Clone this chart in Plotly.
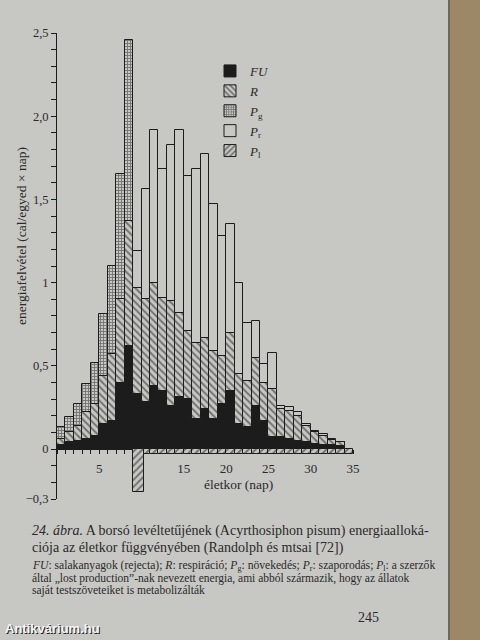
import plotly.graph_objects as go

# energy allocation of the pea aphid by age (cal / individual x day)
age_fu = list(range(1, 35))
fu = [0.025, 0.04, 0.05, 0.06, 0.08, 0.15, 0.17, 0.40, 0.62, 0.33,
      0.28, 0.38, 0.35, 0.26, 0.31, 0.30, 0.18, 0.24, 0.18, 0.27,
      0.35, 0.15, 0.13, 0.26, 0.17, 0.07, 0.07, 0.06, 0.05, 0.04,
      0.03, 0.025, 0.025, 0.02]
resp = [0.035, 0.06, 0.09, 0.16, 0.19, 0.29, 0.40, 0.50, 0.75, 0.64,
        0.62, 0.62, 0.56, 0.63, 0.51, 0.41, 0.46, 0.43, 0.41, 0.29,
        0.35, 0.30, 0.28, 0.29, 0.23, 0.29, 0.17, 0.17, 0.15, 0.10,
        0.07, 0.055, 0.03, 0.02]
age_pg = list(range(1, 10))
growth = [0.07, 0.09, 0.13, 0.17, 0.25, 0.37, 0.53, 0.75, 1.09]
age_pr = list(range(10, 35))
repro = [0.22, 0.66, 0.92, 0.77, 0.94, 1.10, 0.93, 1.04, 1.10, 0.88,
         0.72, 0.65, 0.55, 0.35, 0.22, 0.11, 0.22, 0.02, 0.025, 0.02,
         0.01, 0.01, 0.01, 0.005, 0.005]
age_pl = list(range(10, 36))
lost = [-0.26] + [-0.03] * 25

y_vals = [-0.3, 0, 0.5, 1, 1.5, 2, 2.5]
y_text = ["\u22120,3", "0", "0,5", "1", "1,5", "2,0", "2,5"]
x_vals = [5, 15, 20, 25, 30, 35]
x_text = ["5", "15", "20", "25", "30", "35"]

PAPER = "#c7c7c4"
INK = "#1c1c1c"
TXT = "#2a2a2a"
SERIF = "Liberation Serif"

W, H = 480, 640
ML, MR, MT, MB = 57, 127, 33, 141
Y0, Y1 = -0.3, 2.5


def px(x):
    return (x - ML) / (W - ML - MR)


def py(y):
    return (H - MB - y) / (H - MT - MB)


outline = dict(color=INK, width=1)

fig = go.Figure()
fig.add_trace(go.Bar(
    x=age_fu, y=fu, name="<i>FU</i>", width=1, offset=-1,
    marker=dict(color=INK, line=outline),
))
fig.add_trace(go.Bar(
    x=age_fu, y=resp, name="<i>R</i>", width=1, offset=-1,
    marker=dict(color=PAPER, line=outline,
                pattern=dict(shape="\\", fgcolor=INK, bgcolor=PAPER, size=5, solidity=0.4)),
))
fig.add_trace(go.Bar(
    x=age_pg, y=growth, name="<i>P</i><sub>g</sub>", width=1, offset=-1,
    marker=dict(color=PAPER, line=outline,
                pattern=dict(shape="+", fgcolor=INK, bgcolor=PAPER, size=3, solidity=0.5)),
))
fig.add_trace(go.Bar(
    x=age_pr, y=repro, name="<i>P</i><sub>r</sub>", width=1, offset=-1,
    marker=dict(color=PAPER, line=outline),
))
# the big negative block is a bit wider than one day
pl_width = [1.3, 0.7] + [1] * (len(age_pl) - 2)
pl_offset = [-1, -0.7] + [-1] * (len(age_pl) - 2)
fig.add_trace(go.Bar(
    x=age_pl, y=lost, name="<i>P</i><sub>l</sub>", width=pl_width, offset=pl_offset,
    marker=dict(color=PAPER, line=outline,
                pattern=dict(shape="/", fgcolor=INK, bgcolor=PAPER, size=5, solidity=0.4)),
))

ann = []


def text(x, y, s, size, anchor="left", **kw):
    ann.append(dict(x=px(x), y=py(y), xref="paper", yref="paper", text=s,
                    showarrow=False, xanchor=anchor, yanchor="middle",
                    font=dict(family=kw.pop("family", SERIF), size=size,
                              color=kw.pop("color", TXT)), **kw))


text(21, 236, "energiafelvétel (cal/egyed \u00d7 nap)", 13.5, anchor="center", textangle=-90)
text(238, 484, "életkor (nap)", 13.5, anchor="center")
text(30, 531, "<i>24. ábra.</i> A borsó levéltetűjének (Acyrthosiphon pisum) energiaalloká-", 14)
text(30, 548, "ciója az életkor függvényében (Randolph és mtsai [72])", 14)
text(30, 566, "<i>FU</i>: salakanyagok (rejecta); <i>R</i>: respiráció; <i>P</i><sub>g</sub>: növekedés; "
              "<i>P</i><sub>r</sub>: szaporodás; <i>P</i><sub>l</sub>: a szerzők", 11.6)
text(30, 578, "által \u201elost production\u201d-nak nevezett energia, ami abból származik, hogy az állatok", 11.5)
text(30, 590, "saját testszöveteiket is metabolizálták", 11.5)
text(368, 617, "245", 14, anchor="center")
text(4, 629, "<b>Antikvárium.hu</b>", 13, family="Liberation Sans", color="#222222")
text(3, 628, "<b>Antikvárium.hu</b>", 13, family="Liberation Sans", color="#f4f4f4")

shapes = [
    dict(type="rect", xref="paper", yref="paper", x0=px(0), x1=px(449), y0=py(0), y1=py(H),
         fillcolor=PAPER, line=dict(width=0), layer="below"),
    dict(type="rect", xref="paper", yref="paper", x0=px(449), x1=px(W), y0=py(0), y1=py(H),
         fillcolor="#9c8866", line=dict(width=0), layer="below"),
    dict(type="line", xref="paper", yref="paper", x0=px(449), x1=px(449), y0=py(0), y1=py(H),
         line=dict(color="#6d685e", width=2), layer="below"),
]

fig.update_layout(
    width=W, height=H,
    margin=dict(l=ML, r=MR, t=MT, b=MB, autoexpand=False),
    paper_bgcolor=PAPER, plot_bgcolor="rgba(0,0,0,0)",
    barmode="relative", bargap=0,
    font=dict(family=SERIF, color=TXT),
    showlegend=True,
    legend=dict(x=px(210), y=py(56), xanchor="left", yanchor="top",
                bgcolor="rgba(0,0,0,0)", font=dict(family=SERIF, size=13, color=TXT),
                traceorder="normal", itemclick=False),
    xaxis=dict(
        range=[0, 35], anchor="free", position=(0 - Y0) / (Y1 - Y0),
        showline=True, linecolor=INK, linewidth=1, showgrid=False, zeroline=False,
        ticks="outside", ticklen=4, tickcolor=INK, tickvals=x_vals, ticktext=x_text,
        minor=dict(dtick=1, ticks="outside", ticklen=4, tickcolor=INK),
        tickfont=dict(family=SERIF, size=13, color=TXT), ticklabelstandoff=3,
        layer="below traces",
    ),
    yaxis=dict(
        range=[Y0, Y1], showline=True, linecolor=INK, linewidth=1,
        showgrid=False, zeroline=False,
        ticks="outside", ticklen=5, tickcolor=INK, tickvals=y_vals, ticktext=y_text,
        minor=dict(tick0=0, dtick=0.1, ticks="outside", ticklen=5, tickcolor=INK),
        tickfont=dict(family=SERIF, size=12.5, color=TXT),
    ),
    annotations=ann,
    shapes=shapes,
)

fig.write_html("out.html", config={"displayModeBar": False},
               post_script="document.body.style.margin = '0';")
